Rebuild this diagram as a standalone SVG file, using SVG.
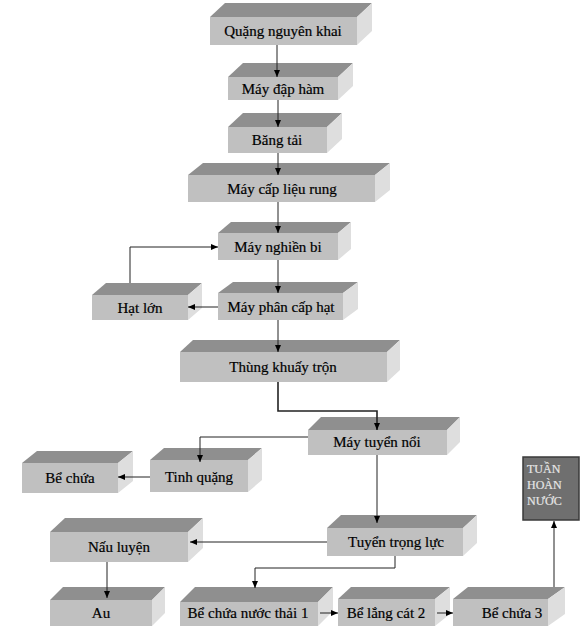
<svg xmlns="http://www.w3.org/2000/svg" width="583" height="626" viewBox="0 0 583 626">
<style>
.top{fill:#8f8f8f}
.front{fill:#c0c0c0}
.side{fill:#dedede}
.lbl{font-family:"Liberation Serif","Times New Roman",serif;font-size:15px;fill:#000;text-anchor:middle;stroke:#000;stroke-width:0.2}
.c{fill:none;stroke:#222;stroke-width:1}
.tw{font-family:"Liberation Serif","Times New Roman",serif;font-size:12px;fill:#e6e6e6;stroke:#e6e6e6;stroke-width:0.2}
</style>
<defs>
<marker id="ah" markerWidth="8" markerHeight="8" refX="7" refY="4" orient="auto" markerUnits="userSpaceOnUse">
<path d="M0,1 L7,4 L0,7 Z" fill="#000"/>
</marker>
</defs>
<rect width="583" height="626" fill="#fff"/>
<g id="n1">
<polygon class="top" points="210,17 225,3 372,3 357,17"/>
<polygon class="side" points="357,17 372,3 372,31 357,45"/>
<rect class="front" x="210" y="17" width="147" height="28"/>
<text class="lbl" x="283" y="36">Quặng nguyên khai</text>
</g>
<g id="n2">
<polygon class="top" points="228,77 243,63 353,63 338,77"/>
<polygon class="side" points="338,77 353,63 353,86 338,100"/>
<rect class="front" x="228" y="77" width="110" height="23"/>
<text class="lbl" x="283" y="94">Máy đập hàm</text>
</g>
<g id="n3">
<polygon class="top" points="228,127 243,113 342,113 327,127"/>
<polygon class="side" points="327,127 342,113 342,139 327,153"/>
<rect class="front" x="228" y="127" width="99" height="26"/>
<text class="lbl" x="277" y="145">Băng tải</text>
</g>
<g id="n4">
<polygon class="top" points="188,175 203,163 390,163 375,175"/>
<polygon class="side" points="375,175 390,163 390,190 375,202"/>
<rect class="front" x="188" y="175" width="187" height="27"/>
<text class="lbl" x="282" y="194">Máy cấp liệu rung</text>
</g>
<g id="n5">
<polygon class="top" points="218,233 231,222 351,222 338,233"/>
<polygon class="side" points="338,233 351,222 351,249 338,260"/>
<rect class="front" x="218" y="233" width="120" height="27"/>
<text class="lbl" x="278" y="252">Máy nghiền bi</text>
</g>
<g id="n6">
<polygon class="top" points="92,295 106,283 202,283 188,295"/>
<polygon class="side" points="188,295 202,283 202,308 188,320"/>
<rect class="front" x="92" y="295" width="96" height="25"/>
<text class="lbl" x="140" y="313">Hạt lớn</text>
</g>
<g id="n7">
<polygon class="top" points="218,293 233,282 358,282 343,293"/>
<polygon class="side" points="343,293 358,282 358,309 343,320"/>
<rect class="front" x="218" y="293" width="125" height="27"/>
<text class="lbl" x="281" y="312">Máy phân cấp hạt</text>
</g>
<g id="n8">
<polygon class="top" points="180,352 193,340 400,340 387,352"/>
<polygon class="side" points="387,352 400,340 400,370 387,382"/>
<rect class="front" x="180" y="352" width="207" height="30"/>
<text class="lbl" x="283" y="372">Thùng khuấy trộn</text>
</g>
<g id="n9">
<polygon class="top" points="308,430 321,417 460,417 447,430"/>
<polygon class="side" points="447,430 460,417 460,442 447,455"/>
<rect class="front" x="308" y="430" width="139" height="25"/>
<text class="lbl" x="377" y="447">Máy tuyển nổi</text>
</g>
<g id="n10">
<polygon class="top" points="150,460 164,448 262,448 248,460"/>
<polygon class="side" points="248,460 262,448 262,480 248,492"/>
<rect class="front" x="150" y="460" width="98" height="32"/>
<text class="lbl" x="199" y="482">Tinh quặng</text>
</g>
<g id="n11">
<polygon class="top" points="22,463 37,451 133,451 118,463"/>
<polygon class="side" points="118,463 133,451 133,481 118,493"/>
<rect class="front" x="22" y="463" width="96" height="30"/>
<text class="lbl" x="70" y="483">Bể chứa</text>
</g>
<g id="n12">
<polygon class="top" points="327,528 341,515 477,515 463,528"/>
<polygon class="side" points="463,528 477,515 477,543 463,556"/>
<rect class="front" x="327" y="528" width="136" height="28"/>
<text class="lbl" x="396" y="547">Tuyển trọng lực</text>
</g>
<g id="n13">
<polygon class="top" points="50,532 65,518 203,518 188,532"/>
<polygon class="side" points="188,532 203,518 203,548 188,562"/>
<rect class="front" x="50" y="532" width="138" height="30"/>
<text class="lbl" x="119" y="552">Nấu luyện</text>
</g>
<g id="n14">
<polygon class="top" points="50,600 63,587 165,587 152,600"/>
<polygon class="side" points="152,600 165,587 165,613 152,626"/>
<rect class="front" x="50" y="600" width="102" height="26"/>
<text class="lbl" x="101" y="618">Au</text>
</g>
<g id="n15">
<polygon class="top" points="180,602 195,587 333,587 318,602"/>
<polygon class="side" points="318,602 333,587 333,611 318,626"/>
<rect class="front" x="180" y="602" width="138" height="24"/>
<text class="lbl" x="248" y="618">Bể chứa nước thải 1</text>
</g>
<g id="n16">
<polygon class="top" points="338,599 351,587 450,587 435,599"/>
<polygon class="side" points="435,599 450,587 450,614 435,626"/>
<rect class="front" x="338" y="599" width="97" height="27"/>
<text class="lbl" x="386" y="618">Bể lắng cát 2</text>
</g>
<g id="n17">
<polygon class="top" points="453,599 468,587 565,587 548,599"/>
<polygon class="side" points="548,599 565,587 565,614 548,626"/>
<rect class="front" x="453" y="599" width="95" height="27"/>
<text class="lbl" x="512" y="618">Bể chứa 3</text>
</g>
<g id="n18">
<rect x="523" y="457" width="56" height="63" fill="#6f6f6f" stroke="#3a3a3a" stroke-width="1.5"/>
<text class="tw" x="527" y="473">TUẦN</text>
<text class="tw" x="527" y="489">HOÀN</text>
<text class="tw" x="527" y="505">NƯỚC</text>
</g>
<g id="connectors">
<path class="c" d="M277,45 V77" marker-end="url(#ah)"/>
<path class="c" d="M278,100 V127" marker-end="url(#ah)"/>
<path class="c" d="M278,153 V175" marker-end="url(#ah)"/>
<path class="c" d="M278,202 V233" marker-end="url(#ah)"/>
<path class="c" d="M278,260 V293" marker-end="url(#ah)"/>
<path class="c" d="M218,307 H188" marker-end="url(#ah)"/>
<path class="c" d="M130,283 V247 H218" marker-end="url(#ah)"/>
<path class="c" d="M278,320 V352" marker-end="url(#ah)"/>
<path class="c" style="stroke-width:1.6" d="M278,382 V411 H377 V430" marker-end="url(#ah)"/>
<path class="c" d="M308,437 H200 V462" marker-end="url(#ah)"/>
<path class="c" d="M150,477 H118" marker-end="url(#ah)"/>
<path class="c" d="M377,455 V523" marker-end="url(#ah)"/>
<path class="c" d="M327,542 H190" marker-end="url(#ah)"/>
<path class="c" d="M395,556 V568 H255 V588" marker-end="url(#ah)"/>
<path class="c" d="M107,562 V598" marker-end="url(#ah)"/>
<path class="c" d="M320,613 H338" marker-end="url(#ah)"/>
<path class="c" d="M437,613 H453" marker-end="url(#ah)"/>
<path class="c" d="M554,587 V521" marker-end="url(#ah)"/>
</g>
</svg>
